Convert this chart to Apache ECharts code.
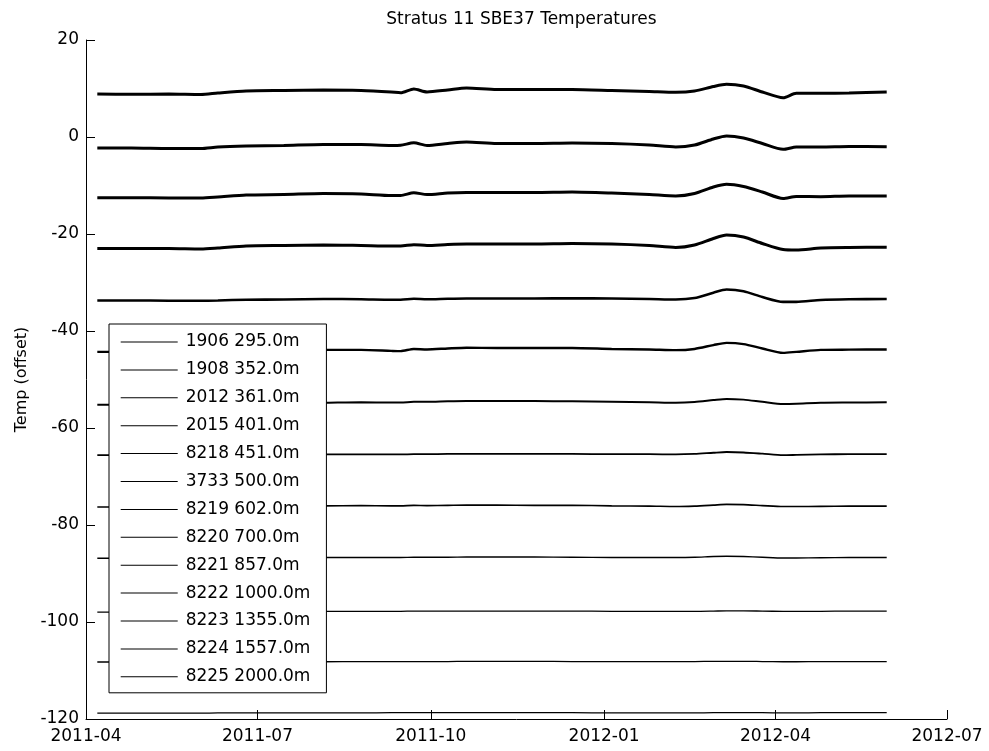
<!DOCTYPE html>
<html>
<head>
<meta charset="utf-8">
<script src="https://cdn.jsdelivr.net/npm/echarts@6/dist/echarts.min.js"></script>
<style>
html,body{margin:0;padding:0;background:#fff;}
#chart{width:989px;height:751px;}
</style>
</head>
<body>
<div id="chart"></div>
<script>
// ---- data ----
const titleText = 'Stratus 11 SBE37 Temperatures';
const yAxisName = 'Temp (offset)';
const seriesNames = ['1906 295.0m','1908 352.0m','2012 361.0m','2015 401.0m','8218 451.0m','3733 500.0m','8219 602.0m','8220 700.0m','8221 857.0m','8222 1000.0m','8223 1355.0m','8224 1557.0m','8225 2000.0m'];
const xTickDates = ['2011-04-01','2011-07-01','2011-10-01','2012-01-01','2012-04-01','2012-07-01'];
const dates = ['2011-04-07','2011-04-25','2011-05-15','2011-06-01','2011-06-10','2011-06-25','2011-07-15','2011-08-05','2011-08-25','2011-09-10','2011-09-15','2011-09-22','2011-09-29','2011-10-10','2011-10-20','2011-11-05','2011-11-25','2011-12-15','2012-01-05','2012-01-25','2012-02-08','2012-02-18','2012-02-28','2012-03-06','2012-03-15','2012-03-25','2012-04-05','2012-04-12','2012-04-25','2012-05-10','2012-05-30'];
const s1906 = [8.87,8.80,8.87,8.76,9.07,9.48,9.59,9.69,9.59,9.28,9.11,9.9,9.28,9.69,10.1,9.79,9.79,9.79,9.59,9.38,9.22,9.48,10.41,10.87,10.52,9.28,8.10,9.01,9.01,9.07,9.28];
const s1908 = [-2.27,-2.27,-2.37,-2.37,-2.06,-1.86,-1.75,-1.55,-1.55,-1.75,-1.71,-1.2,-1.75,-1.34,-1.03,-1.34,-1.34,-1.24,-1.34,-1.65,-2.06,-1.65,-0.41,0.20,-0.21,-1.34,-2.54,-2.06,-2.06,-1.96,-2.00];
const s2012 = [-12.52,-12.52,-12.58,-12.58,-12.37,-11.96,-11.86,-11.65,-11.75,-12.06,-12.06,-11.5,-11.86,-11.55,-11.44,-11.44,-11.44,-11.34,-11.55,-11.86,-12.16,-11.65,-10.31,-9.75,-10.21,-11.34,-12.68,-12.27,-12.31,-12.16,-12.16];
const s2015 = [-22.99,-22.99,-22.99,-23.09,-22.89,-22.47,-22.37,-22.27,-22.37,-22.47,-22.47,-22.2,-22.37,-22.16,-22.06,-22.06,-22.06,-21.96,-22.06,-22.37,-22.78,-22.27,-20.93,-20.21,-20.62,-21.96,-23.20,-23.30,-22.89,-22.78,-22.74];
const s8218 = [-33.70,-33.70,-33.75,-33.75,-33.70,-33.55,-33.50,-33.40,-33.45,-33.55,-33.55,-33.35,-33.45,-33.35,-33.30,-33.30,-33.30,-33.25,-33.30,-33.40,-33.50,-33.20,-32.10,-31.45,-31.80,-33.00,-34.00,-34.00,-33.60,-33.45,-33.40];
const s3733 = [-44.30,-44.30,-44.30,-44.30,-44.20,-44.10,-44.00,-43.90,-43.90,-44.10,-44.15,-43.70,-43.80,-43.60,-43.45,-43.50,-43.50,-43.50,-43.70,-43.80,-43.95,-43.70,-42.90,-42.45,-42.70,-43.60,-44.50,-44.30,-43.90,-43.85,-43.80];
const s8219 = [-55.20,-55.20,-55.10,-55.00,-55.00,-54.90,-54.85,-54.80,-54.70,-54.75,-54.75,-54.60,-54.60,-54.50,-54.45,-54.45,-54.45,-54.50,-54.60,-54.70,-54.80,-54.65,-54.25,-54.00,-54.15,-54.60,-55.05,-55.00,-54.80,-54.75,-54.70];
const s8220 = [-65.60,-65.60,-65.60,-65.55,-65.55,-65.50,-65.50,-65.45,-65.45,-65.45,-65.45,-65.40,-65.40,-65.35,-65.35,-65.35,-65.35,-65.35,-65.40,-65.40,-65.45,-65.35,-65.10,-64.95,-65.05,-65.30,-65.60,-65.55,-65.45,-65.40,-65.40];
const s8221 = [-76.30,-76.30,-76.25,-76.25,-76.20,-76.15,-76.10,-76.05,-76.00,-76.05,-76.05,-75.95,-76.00,-75.95,-75.90,-75.90,-75.95,-75.95,-76.05,-76.10,-76.20,-76.10,-75.90,-75.75,-75.80,-76.00,-76.20,-76.20,-76.15,-76.10,-76.10];
const s8222 = [-86.85,-86.85,-86.80,-86.80,-86.80,-86.75,-86.75,-86.70,-86.70,-86.70,-86.70,-86.65,-86.65,-86.65,-86.60,-86.60,-86.60,-86.65,-86.70,-86.70,-86.70,-86.65,-86.50,-86.45,-86.50,-86.65,-86.80,-86.80,-86.75,-86.70,-86.70];
const s8223 = [-97.95,-97.95,-97.90,-97.90,-97.90,-97.85,-97.85,-97.80,-97.80,-97.80,-97.80,-97.75,-97.75,-97.75,-97.75,-97.75,-97.75,-97.75,-97.80,-97.80,-97.80,-97.80,-97.75,-97.70,-97.70,-97.75,-97.80,-97.80,-97.80,-97.75,-97.75];
const s8224 = [-108.25,-108.25,-108.25,-108.20,-108.20,-108.20,-108.20,-108.20,-108.15,-108.15,-108.15,-108.15,-108.15,-108.15,-108.10,-108.10,-108.10,-108.15,-108.15,-108.15,-108.15,-108.15,-108.10,-108.10,-108.10,-108.15,-108.20,-108.20,-108.15,-108.15,-108.15];
const s8225 = [-118.80,-118.80,-118.80,-118.80,-118.75,-118.75,-118.75,-118.75,-118.75,-118.70,-118.70,-118.70,-118.70,-118.70,-118.70,-118.70,-118.70,-118.70,-118.75,-118.75,-118.75,-118.75,-118.70,-118.70,-118.70,-118.70,-118.75,-118.75,-118.70,-118.70,-118.70];
const seriesValues = [s1906,s1908,s2012,s2015,s8218,s3733,s8219,s8220,s8221,s8222,s8223,s8224,s8225];

// ---- styling ----
const lineWidths = [3,3,3,3,2.6,2.4,2,1.8,1.6,1.4,1.3,1.3,1.3];
const FONT = 'DejaVu Sans';

function toTs(s){ const p = s.split('-').map(Number); return Date.UTC(p[0], p[1]-1, p[2]); }
function pad(n){ return (n<10?'0':'')+n; }
const tickTs = xTickDates.map(toTs);

const series = seriesNames.map((name, i) => ({
  name: name,
  type: 'line',
  symbol: 'none',
  showSymbol: false,
  smooth: 0.25,
  data: dates.map((d, k) => [toTs(d), seriesValues[i][k]]),
  lineStyle: { color: '#000', width: lineWidths[i] },
  itemStyle: { color: '#000' },
  z: 2
}));

const chart = echarts.init(document.getElementById('chart'), null, { renderer: 'canvas' });
chart.setOption({
  animation: false,
  backgroundColor: '#fff',
  textStyle: { fontFamily: FONT },
  title: {
    text: titleText,
    left: 516.5,
    textAlign: 'center',
    top: 6,
    textStyle: { fontFamily: FONT, fontSize: 17, fontWeight: 'normal', color: '#000' }
  },
  grid: { left: 86, right: 42, top: 40, bottom: 32, containLabel: false },
  legend: {
    orient: 'vertical',
    left: 109,
    top: 324,
    data: seriesNames.map(n => ({ name: n, icon: 'rect' })),
    itemWidth: 57,
    itemHeight: 1,
    itemGap: 7.9,
    padding: [8, 16, 6, 11.7],
    backgroundColor: '#fff',
    borderColor: '#000',
    borderWidth: 1,
    borderRadius: 0,
    selectedMode: false,
    itemStyle: { color: '#000', borderWidth: 0 },
    textStyle: { fontFamily: FONT, fontSize: 17, color: '#000', lineHeight: 20, padding: [0, 0, 0, 3] },
    z: 10
  },
  xAxis: {
    type: 'value',
    min: tickTs[0],
    max: tickTs[tickTs.length-1],
    splitLine: { show: false },
    axisLine: { show: true, onZero: false, lineStyle: { color: '#000', width: 1 } },
    axisTick: { show: true, inside: true, length: 9, customValues: tickTs, lineStyle: { color: '#000' } },
    axisLabel: {
      show: true, color: '#000', fontFamily: FONT, fontSize: 17, margin: 9,
      customValues: tickTs,
      showMinLabel: true, showMaxLabel: true,
      formatter: function (v) { const d = new Date(v); return d.getUTCFullYear() + '-' + pad(d.getUTCMonth()+1); }
    }
  },
  yAxis: {
    type: 'value',
    min: -120,
    max: 20,
    interval: 20,
    name: yAxisName,
    nameLocation: 'middle',
    nameRotate: 90,
    nameGap: 56,
    nameTextStyle: { fontFamily: FONT, fontSize: 16, color: '#000' },
    splitLine: { show: false },
    axisLine: { show: true, onZero: false, lineStyle: { color: '#000', width: 1 } },
    axisTick: { show: true, inside: true, length: 9, lineStyle: { color: '#000' } },
    axisLabel: { color: '#000', fontFamily: FONT, fontSize: 17, margin: 7, showMinLabel: true, showMaxLabel: true }
  },
  series: series
});
</script>
</body>
</html>
